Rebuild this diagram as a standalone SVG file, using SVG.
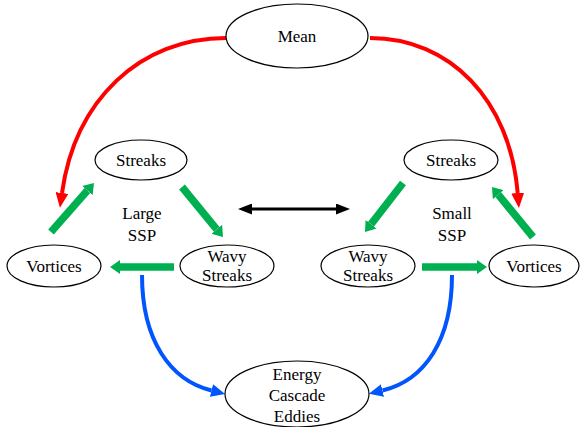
<svg xmlns="http://www.w3.org/2000/svg" width="580" height="427" viewBox="0 0 580 427">
<style>
.n ellipse{fill:#fff;stroke:#000;stroke-width:1.2}
.t{font-size:17px;fill:#000;text-anchor:middle}
.g{stroke:#00b050;stroke-width:7.5;fill:none}
.r{stroke:#ff0000;stroke-width:4;fill:none}
.b{stroke:#0055ff;stroke-width:4;fill:none}
.k{stroke:#000;stroke-width:3;fill:none}
</style>
<defs>
<marker id="mg" markerUnits="userSpaceOnUse" markerWidth="11" markerHeight="14" refX="0" refY="7" orient="auto"><path d="M0,0 L10,7 L0,14 z" fill="#00b050"/></marker>
<marker id="mr" markerUnits="userSpaceOnUse" markerWidth="16" markerHeight="13" refX="0" refY="6.5" orient="auto"><path d="M0,0 L15,6.5 L0,13 z" fill="#ff0000"/></marker>
<marker id="mb" markerUnits="userSpaceOnUse" markerWidth="15" markerHeight="13" refX="0" refY="6.5" orient="auto"><path d="M0,0 L14,6.5 L0,13 z" fill="#0055ff"/></marker>
<marker id="mk" markerUnits="userSpaceOnUse" markerWidth="15" markerHeight="11" refX="0" refY="5.5" orient="auto-start-reverse"><path d="M0,0 L14,5.5 L0,11 z" fill="#000"/></marker>
</defs>
<g id="connectors">
<path class="r" d="M226,38 C140,38 75,100 62,193" marker-end="url(#mr)"/>
<path class="r" d="M370,38 C450,38 510,100 517.7,193" marker-end="url(#mr)"/>
<path class="g" d="M51,232 L87.4,190.5" marker-end="url(#mg)"/>
<path class="g" d="M182,187 L216.7,229.3" marker-end="url(#mg)"/>
<path class="g" d="M174,267 L120,267" marker-end="url(#mg)"/>
<path class="g" d="M403,183 L371.1,224.1" marker-end="url(#mg)"/>
<path class="g" d="M422,267 L477,267" marker-end="url(#mg)"/>
<path class="g" d="M533,237 L498.3,194.7" marker-end="url(#mg)"/>
<path class="k" d="M252,209 L336,209" marker-start="url(#mk)" marker-end="url(#mk)"/>
<path class="b" d="M142,275 C142,340 170,380 211.5,390.5" marker-end="url(#mb)"/>
<path class="b" d="M452,275 C452,340 425,380 382.5,390.5" marker-end="url(#mb)"/>
</g>
<g class="t" font-family="Liberation Serif, Times New Roman, DejaVu Serif, serif">
<g id="mean" class="n"><ellipse cx="297" cy="36" rx="71" ry="32"/><text x="297" y="42">Mean</text></g>
<g id="streaks-large" class="n"><ellipse cx="141" cy="160" rx="46" ry="20"/><text x="141" y="166">Streaks</text></g>
<g id="vortices-large" class="n"><ellipse cx="54" cy="266" rx="47" ry="21"/><text x="54" y="272">Vortices</text></g>
<g id="wavy-large" class="n"><ellipse cx="227" cy="266" rx="47" ry="21"/><text x="227" y="262">Wavy</text><text x="227" y="281">Streaks</text></g>
<g id="label-large"><text x="142" y="219">Large</text><text x="142" y="241">SSP</text></g>
<g id="streaks-small" class="n"><ellipse cx="451" cy="160" rx="47" ry="20"/><text x="451" y="166">Streaks</text></g>
<g id="wavy-small" class="n"><ellipse cx="368" cy="266" rx="47" ry="21"/><text x="368" y="262">Wavy</text><text x="368" y="281">Streaks</text></g>
<g id="vortices-small" class="n"><ellipse cx="534" cy="266" rx="45" ry="21"/><text x="534" y="272">Vortices</text></g>
<g id="label-small"><text x="452" y="219">Small</text><text x="452" y="241">SSP</text></g>
<g id="energy" class="n"><ellipse cx="297" cy="394" rx="72" ry="33"/><text x="297" y="380">Energy</text><text x="297" y="401">Cascade</text><text x="297" y="422">Eddies</text></g>
</g>
</svg>
